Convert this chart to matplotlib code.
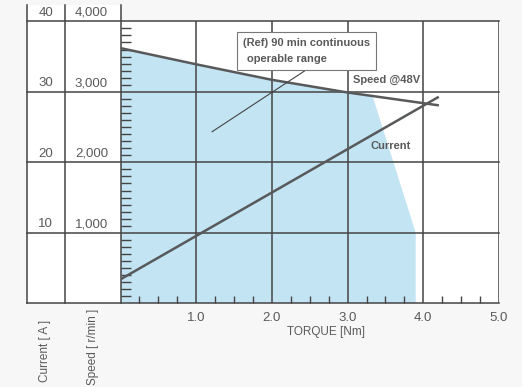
import numpy as np
import matplotlib.pyplot as plt
from matplotlib.patches import Polygon, Rectangle

# data
torque_speed = [0.0, 1.0, 2.0, 3.0, 4.19]
speed_rpm = [3620, 3390, 3170, 2990, 2810]
torque_current = [0.0, 4.19]
current_a = [3.4, 29.2]
# right edge of the 90 min continuous region
region_torque = [3.33, 3.9, 3.9]
region_speed = [2940, 1000, 0]

current_ticks = [10, 20, 30, 40]
speed_ticks = [1000, 2000, 3000, 4000]
torque_ticks = [1.0, 2.0, 3.0, 4.0, 5.0]

W, H = 522, 387
fig = plt.figure(figsize=(W / 100, H / 100), dpi=100, facecolor='#f7f7f7')
x0, x1, ytop, ybot = 120.5, 499, 21.3, 303.3
ax = fig.add_axes([x0 / W, 1 - ybot / H, (x1 - x0) / W, (ybot - ytop) / H])
ax.set_xlim(0, 5)
ax.set_ylim(0, 4000)
ax.set_facecolor('white')

grid_c = '#444444'
line_c = '#58595b'
text_c = '#5a5a5a'
font = ['Liberation Sans', 'DejaVu Sans']

for s in ax.spines.values():
    s.set_visible(False)

col_a = (27.3 - x0) / (x1 - x0)
col_b = (64.7 - x0) / (x1 - x0)
yt = ax.get_yaxis_transform()
top_ext = (ybot - 5) / (ybot - ytop) * 4000

# white panel behind the left columns
ax.add_patch(Rectangle((col_a, 0), -col_a, top_ext, transform=yt,
                       facecolor='white', edgecolor='none', clip_on=False, zorder=0))

# blue operable region under the speed curve
tt = np.linspace(0, region_torque[0], 40)
sp = np.interp(tt, torque_speed, speed_rpm)
poly = [(0, 0)] + list(zip(tt, sp)) + list(zip(region_torque, region_speed))
ax.add_patch(Polygon(poly, closed=True, facecolor='#c3e4f3', edgecolor='none', zorder=1))

# grid: horizontal lines run across the label columns
for y in [0] + speed_ticks:
    ax.plot([col_a, 1], [y, y], transform=yt, color=grid_c, lw=1.1, clip_on=False, zorder=3)
for xc in [col_a, col_b, 0]:
    ax.plot([xc, xc], [0, top_ext], transform=yt, color=grid_c, lw=1.1, clip_on=False, zorder=3)
for x in torque_ticks:
    ax.plot([x, x], [0, 4000], color=grid_c, lw=1.1, zorder=3)

# left column tick labels
for c, s in zip(current_ticks, speed_ticks):
    ax.text(-0.178, s + 35, str(c), transform=yt, ha='right', va='bottom',
            fontsize=9.5, color=text_c, family=font)
    ax.text(-0.033, s + 35, f'{s:,}', transform=yt, ha='right', va='bottom',
            fontsize=9.5, color=text_c, family=font)

# small inward ticks
ax.set_yticks([])
ax.set_xticks([])
ax.set_yticks([v for v in range(100, 4000, 100) if v % 1000], minor=True)
ax.set_xticks([v for v in np.arange(0.25, 5, 0.25) if abs(v - round(v)) > 0.01], minor=True)
ax.tick_params(which='minor', direction='in', color=grid_c, width=1.0,
               labelleft=False, labelbottom=False, right=False, top=False)
ax.tick_params(axis='y', which='minor', length=7.5)
ax.tick_params(axis='x', which='minor', length=5)

for x in torque_ticks:
    ax.text(x, -120, f'{x:.1f}', ha='center', va='top', fontsize=9.5, color=text_c, family=font)
ax.text(2.72, -320, 'TORQUE [Nm]', ha='center', va='top', fontsize=8.5, color=text_c, family=font)

# curves
ax.plot(torque_speed, speed_rpm, color=line_c, lw=1.8, zorder=4)
ax.plot(torque_current, [c * 100 for c in current_a], color=line_c, lw=1.8, zorder=4)

ax.text(3.07, 3170, 'Speed @48V', ha='left', va='center', fontsize=8, fontweight='bold',
        color=text_c, family=font, zorder=5)
ax.text(3.3, 2230, 'Current', ha='left', va='center', fontsize=8, fontweight='bold',
        color=text_c, family=font, zorder=5)

# annotation box with pointer
ax.plot([1.21, 2.45], [2434, 3309], color=grid_c, lw=0.8, zorder=4)
ax.add_patch(Rectangle((1.54, 3309), 1.83, 539, facecolor='white', edgecolor='#777777',
                       lw=0.8, zorder=6))
ax.text(1.62, 3692, '(Ref) 90 min continuous', ha='left', va='center', fontsize=8,
        fontweight='bold', color=text_c, family=font, zorder=7)
ax.text(1.67, 3461, 'operable range', ha='left', va='center', fontsize=8,
        fontweight='bold', color=text_c, family=font, zorder=7)

fig.text(45 / W, 1 - 351 / H, 'Current [ A ]', rotation=90, ha='center', va='center',
         fontsize=8.5, color=text_c, family=font)
fig.text(93 / W, 1 - 347 / H, 'Speed [ r/min ]', rotation=90, ha='center', va='center',
         fontsize=8.5, color=text_c, family=font)

fig.savefig('out.png', dpi=100, facecolor=fig.get_facecolor())
